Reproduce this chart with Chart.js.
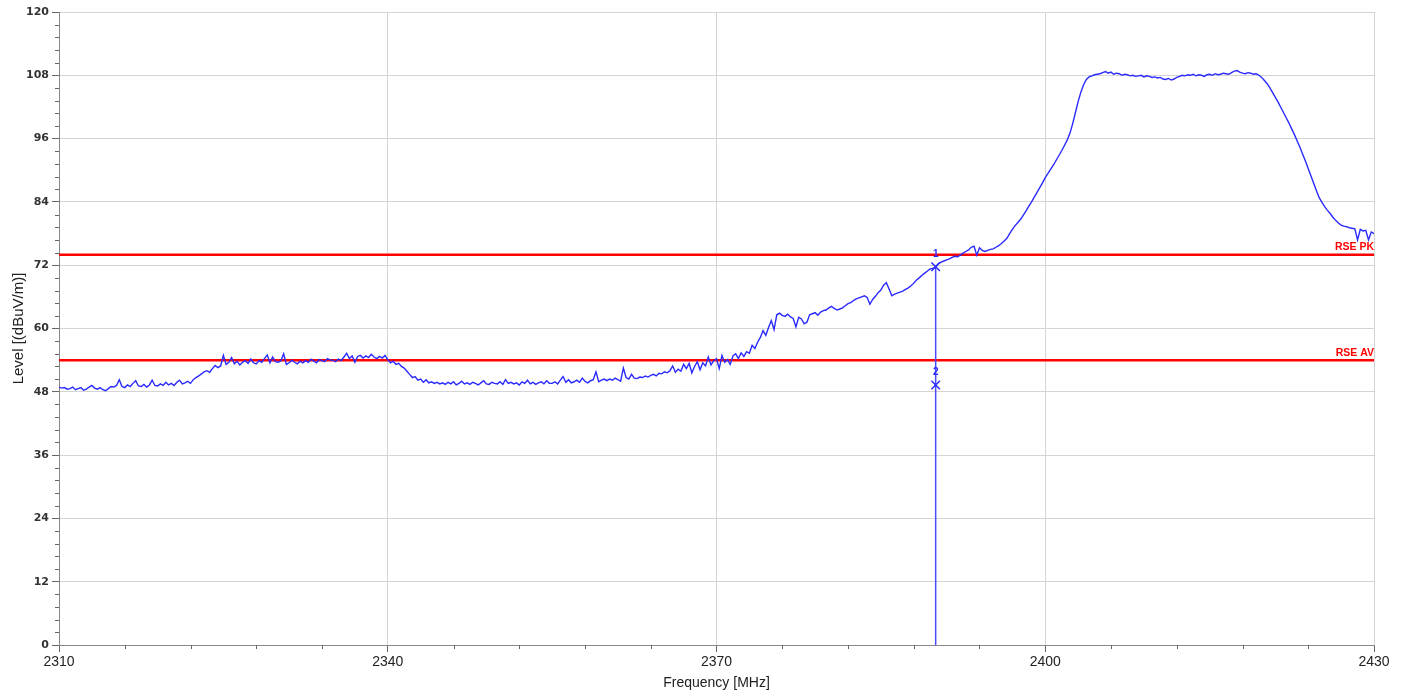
<!DOCTYPE html>
<html><head><meta charset="utf-8">
<script src="https://cdn.jsdelivr.net/npm/chart.js@4/dist/chart.umd.min.js"></script>
<style>html,body{margin:0;padding:0;background:#fff;}#wrap{width:1401px;height:693px;}</style>
</head><body><div id="wrap"><canvas id="c" width="1401" height="693" style="width:1401px;height:693px"></canvas></div>
<script>
// ---- data ----
const freqStart = 2310;
const freqStep = 0.25;
const level = [
48.9,48.7,48.8,48.5,48.6,48.9,48.4,48.6,48.8,48.3,48.5,48.9,49.2,48.7,48.5,48.8,48.4,48.2,48.6,49.0,
48.9,49.2,50.3,49.0,48.8,49.3,49.0,49.6,50.1,49.1,49.0,49.4,48.9,49.3,50.2,49.2,49.1,49.5,49.2,49.8,
49.3,49.6,49.2,49.8,50.2,49.5,49.7,50.0,49.6,50.3,50.7,51.0,51.4,51.8,52.0,51.7,52.4,53.0,52.6,52.9,
54.9,53.2,53.6,54.5,53.3,53.8,53.1,53.6,53.9,53.4,54.2,53.5,53.3,53.9,53.6,54.3,55.0,53.5,54.6,53.7,
53.6,53.9,55.2,53.2,53.5,54.0,53.6,53.3,53.8,53.5,53.9,53.6,54.2,53.8,53.5,54.1,53.9,53.7,54.3,54.0,
54.0,53.7,54.2,53.9,54.6,55.3,54.3,54.8,53.6,54.7,54.9,54.4,54.8,54.5,55.1,54.6,54.3,54.7,54.4,54.9,
54.1,53.5,53.8,53.2,53.4,52.8,52.5,51.9,51.3,50.7,50.9,50.2,50.4,49.8,50.3,49.7,49.9,49.6,49.8,49.5,
49.7,49.4,49.8,49.5,49.9,49.3,49.6,50.0,49.5,49.7,49.4,49.8,49.6,49.3,49.7,50.1,49.5,49.4,49.8,49.6,
49.5,49.9,49.4,50.3,49.6,49.8,49.5,49.7,49.3,49.9,49.6,50.2,49.5,49.8,49.4,49.7,49.9,49.5,50.1,49.6,
49.6,49.9,49.5,50.2,50.9,49.8,50.3,49.7,49.9,50.2,49.8,50.6,50.0,49.7,50.1,50.3,51.8,49.9,50.2,50.4,
50.1,50.4,50.2,50.6,50.3,50.0,52.5,50.7,50.4,51.3,50.6,50.5,50.8,50.7,51.0,50.8,51.1,51.3,51.0,51.5,
51.4,51.8,51.6,52.0,52.9,51.7,52.3,51.9,53.2,52.4,53.4,51.6,52.8,53.7,52.2,53.5,52.9,54.6,53.1,53.9,
54.3,52.4,54.9,53.6,54.1,53.2,54.8,55.2,54.3,55.4,54.7,55.6,55.3,56.8,56.2,57.4,58.3,59.6,58.7,60.2,
61.5,59.8,62.6,62.9,62.5,62.3,62.7,62.2,61.9,60.3,62.1,61.8,60.9,61.2,62.6,62.8,63.0,62.5,63.1,63.4,
63.5,63.9,64.2,63.8,63.5,63.7,63.9,64.3,64.7,64.9,65.3,65.6,65.8,66.0,66.2,65.9,64.6,65.5,66.1,66.8,
67.3,68.2,68.7,67.5,66.2,66.5,66.7,66.9,67.1,67.4,67.7,68.1,68.6,69.2,69.6,70.1,70.5,70.9,71.3,71.4,
71.7,72.3,72.6,72.8,73.0,73.2,73.5,73.7,73.6,73.9,74.3,74.6,74.9,75.4,75.6,73.9,75.3,74.8,74.6,74.8,
75.0,75.1,75.4,75.7,76.1,76.6,77.1,78.0,78.8,79.5,80.1,80.7,81.5,82.3,83.2,84.0,84.9,85.8,86.7,87.6,
88.6,89.4,90.2,91.0,91.9,92.8,93.7,94.7,95.7,97.0,98.8,100.9,103.0,104.8,106.2,107.2,107.7,107.9,108.1,108.2,
108.3,108.5,108.7,108.4,108.6,108.2,108.4,108.3,108.0,108.2,108.1,107.9,108.0,107.8,107.9,108.0,107.7,107.9,107.8,107.6,
107.7,107.5,107.6,107.3,107.2,107.4,107.1,107.3,107.6,107.8,108.0,107.9,108.1,108.0,108.2,107.9,108.1,108.0,107.8,108.1,
108.2,108.0,108.3,108.1,108.2,108.4,108.3,108.2,108.5,108.8,108.9,108.6,108.4,108.3,108.5,108.4,108.2,108.3,108.0,107.6,
107.0,106.4,105.6,104.7,103.8,102.9,101.9,100.9,99.9,98.9,97.8,96.7,95.5,94.3,93.0,91.7,90.3,88.9,87.5,86.1,
84.8,83.9,83.1,82.4,81.8,81.1,80.5,80.0,79.6,79.4,79.3,79.1,79.0,78.9,76.8,78.8,78.5,78.6,76.8,78.3,
78.0
];
const xTicks = [2310, 2340, 2370, 2400, 2430];
const yTicks = [0, 12, 24, 36, 48, 60, 72, 84, 96, 108, 120];
const limitNames = ['RSE PK', 'RSE AV'];
const limitValues = [74, 54];
const markerNames = ['1', '2'];
const markerFreqs = [2390, 2390];
const markerLevels = [71.7, 49.3];

// ---- chart ----
const xMin = xTicks[0], xMax = xTicks[xTicks.length - 1];
const yMin = yTicks[0], yMax = yTicks[yTicks.length - 1];
const TRACE = '#2a2aff';
const MINOR_DIV = 5;
const SANS = '"Liberation Sans", Arial, sans-serif';

const traceData = level.map((v, i) => ({x: freqStart + i * freqStep, y: v}));
const limitSets = limitValues.map((v, i) => ({
  label: limitNames[i],
  data: [{x: xMin, y: v}, {x: xMax, y: v}],
  borderColor: '#ff0000', borderWidth: 2.5, pointRadius: 0, order: 3
}));

const overlay = {
  id: 'overlay',
  afterDatasetsDraw(chart) {
    const {ctx, chartArea: a} = chart;
    const x = chart.scales.x, y = chart.scales.y;
    ctx.save();
    ctx.strokeStyle = '#666';
    ctx.lineWidth = 1;
    ctx.beginPath();
    for (let i = 0; i < xTicks.length - 1; i++) {
      const st = (xTicks[i + 1] - xTicks[i]) / MINOR_DIV;
      for (let k = 1; k < MINOR_DIV; k++) {
        const px = Math.round(x.getPixelForValue(xTicks[i] + k * st)) + 0.5;
        ctx.moveTo(px, a.bottom); ctx.lineTo(px, a.bottom + 4);
      }
    }
    for (let i = 0; i < yTicks.length - 1; i++) {
      const st = (yTicks[i + 1] - yTicks[i]) / MINOR_DIV;
      for (let k = 1; k < MINOR_DIV; k++) {
        const py = Math.round(y.getPixelForValue(yTicks[i] + k * st)) + 0.5;
        ctx.moveTo(a.left - 4, py); ctx.lineTo(a.left, py);
      }
    }
    ctx.stroke();
    ctx.fillStyle = '#ff0000';
    ctx.font = 'bold 10.5px ' + SANS;
    ctx.textAlign = 'right';
    ctx.textBaseline = 'bottom';
    limitValues.forEach((v, i) => ctx.fillText(limitNames[i], a.right, y.getPixelForValue(v) - 2));
    ctx.fillStyle = TRACE;
    ctx.font = 'bold 10px ' + SANS;
    ctx.textAlign = 'center';
    ctx.textBaseline = 'bottom';
    markerNames.forEach((n, i) => ctx.fillText(n, x.getPixelForValue(markerFreqs[i]), y.getPixelForValue(markerLevels[i]) - 8));
    ctx.restore();
  }
};

new Chart(document.getElementById('c'), {
  type: 'line',
  data: {
    datasets: [
      {label: 'trace', data: traceData, borderColor: TRACE, borderWidth: 1.4, pointRadius: 0, order: 2},
      ...limitSets,
      {label: 'marker line', data: [{x: markerFreqs[0], y: yMin}, {x: markerFreqs[0], y: markerLevels[0]}],
        borderColor: '#4a4aff', borderWidth: 1.5, pointRadius: 0, order: 1},
      {label: 'markers', type: 'scatter', data: markerFreqs.map((f, i) => ({x: f, y: markerLevels[i]})),
        pointStyle: 'crossRot', pointRadius: 6, borderColor: TRACE, borderWidth: 1.5, showLine: false, order: 0}
    ]
  },
  options: {
    responsive: false, animation: false, events: [],
    layout: {padding: {top: 12, right: 27, left: 0, bottom: 0}},
    plugins: {legend: {display: false}, tooltip: {enabled: false}},
    scales: {
      x: {
        type: 'linear', min: xMin, max: xMax,
        afterBuildTicks: s => { s.ticks = xTicks.map(v => ({value: v})); },
        afterFit: s => { s.height = 48; },
        ticks: {callback: v => String(v), color: '#222', font: {family: SANS, size: 14}, padding: 2, maxRotation: 0},
        grid: {color: '#d4d4d4', tickColor: '#666', tickLength: 7, lineWidth: 1},
        border: {color: '#888', width: 1},
        title: {display: true, text: 'Frequency [MHz]', color: '#222', font: {family: SANS, size: 14}, padding: {top: 0, bottom: 1}}
      },
      y: {
        type: 'linear', min: yMin, max: yMax,
        afterBuildTicks: s => { s.ticks = yTicks.map(v => ({value: v})); },
        afterFit: s => { s.width = 59; },
        ticks: {callback: v => String(v), color: '#333', font: {family: '"DejaVu Sans", Verdana, sans-serif', size: 11, weight: 'bold'}, padding: 3},
        grid: {color: '#d4d4d4', tickColor: '#666', tickLength: 7, lineWidth: 1},
        border: {color: '#888', width: 1},
        title: {display: true, text: 'Level [(dBuV/m)]', color: '#222', font: {family: SANS, size: 15}, padding: {top: 10, bottom: 0}}
      }
    }
  },
  plugins: [overlay]
});
</script>
</body></html>
